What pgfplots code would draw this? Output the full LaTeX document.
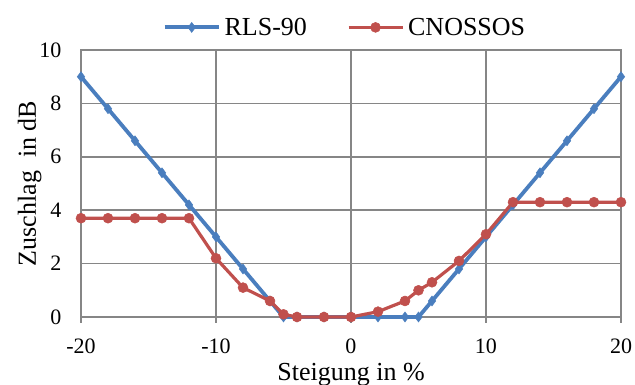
\documentclass[border=0pt]{standalone}
\usepackage{pgfplots}
\pgfplotsset{compat=1.18}
\usepackage{fontspec}
\setmainfont{Liberation Serif}
\definecolor{rlsblue}{RGB}{74,126,190}
\definecolor{cnred}{RGB}{192,80,77}
\definecolor{gridgray}{RGB}{134,134,134}
\begin{document}
\begin{tikzpicture}[x=1pt,y=1pt]
\useasboundingbox (0,0) rectangle (635,385);
\begin{axis}[
  at={(81pt,68pt)}, anchor=south west,
  scale only axis, width=540pt, height=267pt,
  xmin=-20, xmax=20, ymin=0, ymax=10,
  xtick={-20,-10,0,10,20}, xticklabels={-20,-10,0,10,20},
  ytick={0,2,4,6,8,10}, yticklabels={0,2,4,6,8,10},
  grid=major, grid style={gridgray, line width=1.5pt},
  axis line style={gridgray, line width=1.5pt},
  tick pos=left, tick align=outside,
  xtick style={gridgray, line width=1.5pt}, major tick length=6pt,
  ytick style={draw=none},
  ticklabel style={font=\fontsize{22}{24}\selectfont, text=black},
  xticklabel style={yshift=-12pt},
  yticklabel style={xshift=-10pt},
  xlabel={Steigung in \%},
  ylabel={Zuschlag\ \ in dB},
  label style={font=\fontsize{26}{28}\selectfont},
  xlabel style={anchor=north, yshift=-3pt},
  ylabel style={yshift=-9pt},
  legend style={at={(0.5,1.0)}, anchor=south, yshift=11pt, xshift=-6pt, draw=none, fill=none,
    font=\fontsize{26}{28}\selectfont, column sep=2pt,
    inner sep=0pt,
    /tikz/every even column/.append style={column sep=38pt}},
  legend columns=2,
  legend image code/.code={\draw[#1, mark=none] (0pt,0pt) -- (54pt,0pt);\path[#1, draw=none] plot coordinates {(27pt,0pt)};},
  clip=false,
]
\addplot[rlsblue, line width=3.8pt, mark=diamond*, mark size=5pt, mark options={line width=0.5pt}] coordinates {
(-20,9) (-18,7.8) (-16,6.6) (-14,5.4) (-12,4.2) (-10,3.0) (-8,1.8) (-6,0.6) (-5,0) (-4,0) (-2,0) (0,0) (2,0) (4,0) (5,0) (6,0.6) (8,1.8) (10,3.0) (12,4.2) (14,5.4) (16,6.6) (18,7.8) (20,9)
};
\addlegendentry{RLS-90}
\addplot[cnred, line width=3.2pt, mark=*, mark size=5pt, mark options={line width=0.5pt}] coordinates {
(-20,3.7) (-18,3.7) (-16,3.7) (-14,3.7) (-12,3.7) (-10,2.2) (-8,1.1) (-6,0.6) (-5,0.1) (-4,0) (-2,0) (0,0) (2,0.2) (4,0.6) (5,1.0) (6,1.3) (8,2.1) (10,3.1) (12,4.3) (14,4.3) (16,4.3) (18,4.3) (20,4.3)
};
\addlegendentry{CNOSSOS}
\end{axis}
\end{tikzpicture}
\end{document}
